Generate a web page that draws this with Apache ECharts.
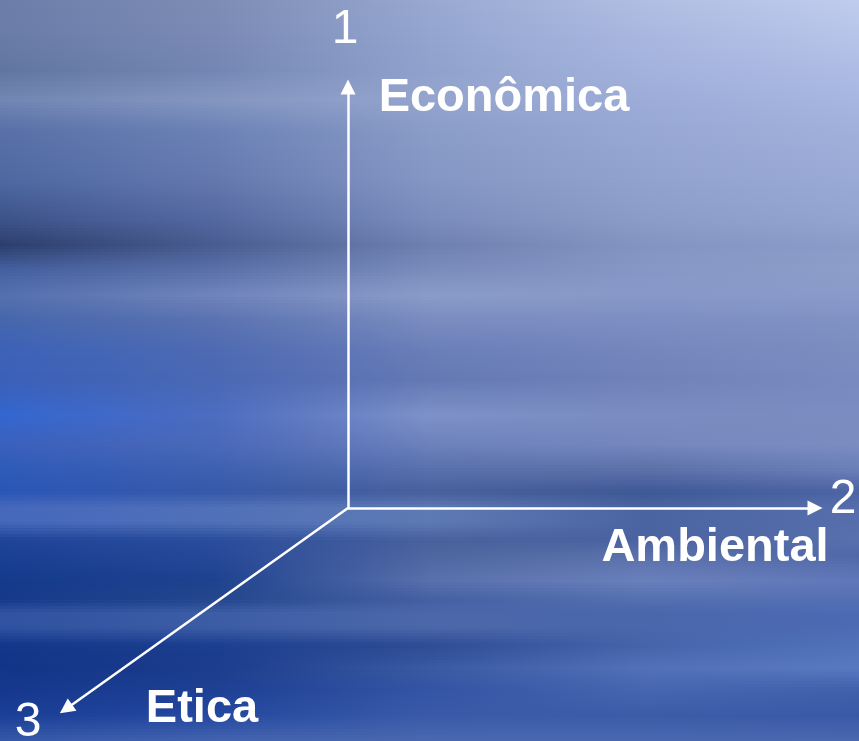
<!DOCTYPE html>
<html><head><meta charset="utf-8">
<script src="https://cdn.jsdelivr.net/npm/echarts@6/dist/echarts.min.js"></script>
<style>html,body{margin:0;padding:0;width:859px;height:741px;overflow:hidden;background:#3a5aa8}#c{width:859px;height:741px}</style>
</head><body><div id="c"></div>
<script>
// Diagram data (abstract units, origin at 0,0)
const axisNumbers = ['1', '2', '3'];
const axisNames = ['Econômica', 'Ambiental', 'Etica'];
const axisEnds = [[0, 4.21], [4.67, 0], [-2.82, -2.01]];
const origin = [0, 0];

// Styling: background colour keyframes (y px: colours at x = 0, 25%, 50%, 75%, 100%)
const bgKeys = [
  [0,   '#6c7ea8','#7c8cb4','#98a8d0','#b0bee2','#c0ccee'],
  [30,  '#6a7ca8','#7a8ab4','#94a6d0','#aab8e0','#b8c6ea'],
  [70,  '#60769f','#7486b4','#90a2cc','#a2b2dc','#aebce4'],
  [100, '#7286b4','#8496c0','#94a4ce','#9cacd8','#a6b6e0'],
  [130, '#5870a6','#6c82b6','#8a9cc8','#98a8d4','#a0b0da'],
  [180, '#4e68a2','#6478ae','#8496c4','#92a2ce','#9aaad6'],
  [220, '#3c5288','#5468a0','#7a8cbc','#8c9cc8','#94a4d0'],
  [245, '#2c3e6c','#485c90','#6e80b0','#8494c2','#8c9cca'],
  [270, '#4460a0','#5a70a8','#7a8cbc','#8696c6','#8e9eca'],
  [295, '#5470ae','#7084bc','#8a9cc8','#8898c8','#8a9aca'],
  [320, '#4666ac','#5a72b0','#7a8cc0','#7c8ec2','#8092c4'],
  [350, '#3c62b8','#4e6ab2','#6a7eb8','#7486bc','#7c8ec0'],
  [380, '#3a60b8','#4a68b4','#6478b4','#7082b8','#788ac0'],
  [415, '#3366d0','#4c6cc0','#7e92c8','#7a8cc0','#7a8cc0'],
  [445, '#3a60bc','#4a68b8','#6c80bc','#7486bc','#7a8cc0'],
  [470, '#2e5ab8','#3e60b0','#5870ac','#5c70a8','#6a7eb8'],
  [492, '#2a56b8','#3658a8','#48609c','#3e5896','#4c64a4'],
  [508, '#4668bc','#5070b8','#5e7ab4','#4a64a2','#566eac'],
  [522, '#4668bc','#5070b8','#5e7ab4','#4a64a2','#566eac'],
  [540, '#1e4498','#2a4c9c','#48629e','#4a62a0','#5870ac'],
  [555, '#1a4094','#284898','#4e66a0','#5a70aa','#5068a8'],
  [580, '#143a8c','#1e428e','#5870ac','#6a80bc','#6078b8'],
  [600, '#163a8a','#24468e','#4460a2','#5470b0','#5470b4'],
  [613, '#3052a0','#3c5ca6','#4c68aa','#4a66ac','#4c6ab4'],
  [627, '#3052a0','#3c5ca6','#4c68aa','#4a66ac','#4c6ab4'],
  [645, '#14368a','#1c3e8e','#2e4c94','#4464aa','#5070b8'],
  [668, '#123488','#1c3c8c','#3a5aa4','#5270b8','#5878c0'],
  [690, '#15388e','#1e4094','#3454a4','#4666b0','#4060ac'],
  [715, '#1a3e96','#2448a0','#3a5aa8','#3c5ca8','#3a58a6'],
  [741, '#3658a8','#4464b0','#4a68b0','#4a68b0','#4a68b0']
];

function hex2rgb(h){return [1,3,5].map(i=>parseInt(h.substr(i,2),16));}
function mix(a,b,t){const A=hex2rgb(a),B=hex2rgb(b);return 'rgb('+A.map((v,i)=>Math.round(v+(B[i]-v)*t)).join(',')+')';}
function colorsAt(y){
  for(let k=0;k<bgKeys.length-1;k++){
    const a=bgKeys[k],b=bgKeys[k+1];
    if(y>=a[0]&&y<=b[0]){const t=(y-a[0])/(b[0]-a[0]);return [1,2,3,4,5].map(j=>mix(a[j],b[j],t));}
  }
  const l=bgKeys[bgKeys.length-1];return [1,2,3,4,5].map(j=>mix(l[j],l[j],0));
}
const bgElements=[];
const step=3;
for(let y=0;y<741;y+=step){
  const c=colorsAt(y+step/2);
  bgElements.push({type:'rect',silent:true,z:-10,shape:{x:0,y:y,width:859,height:step+1},
    style:{fill:new echarts.graphic.LinearGradient(0,0,1,0,c.map((col,j)=>({offset:j/4,color:col})))}});
}

const numberOffsets = [[-3, -57], [28, -8.5], [-38, 14]];
const nameOffsets = [[156, 11], [-100, 40], [136, 0]];

const chart = echarts.init(document.getElementById('c'), null, {renderer:'canvas'});
const labelBase = {show:true,position:'inside',color:'#ffffff',opacity:1,fontFamily:'Liberation Sans, Arial, sans-serif',align:'center',verticalAlign:'middle',formatter:p=>p.name};
chart.setOption({
  animation:false,
  backgroundColor:'transparent',
  graphic:{elements:bgElements},
  grid:{left:0,right:0,top:0,bottom:0},
  xAxis:{type:'value',min:-3.48,max:5.11,show:false},
  yAxis:{type:'value',min:-2.33,max:5.08,show:false},
  series:[
    {type:'lines',coordinateSystem:'cartesian2d',symbol:['none','triangle'],symbolSize:[12,15],
     lineStyle:{color:'#ffffff',width:2.5,opacity:1,curveness:0},
     itemStyle:{color:'#ffffff',opacity:1},
     data:axisEnds.map(e=>({coords:[origin,e]})),z:5},
    {type:'scatter',symbolSize:0,z:6,itemStyle:{opacity:1},
     label:Object.assign({},labelBase,{fontSize:48,fontWeight:'normal'}),
     data:axisEnds.map((e,i)=>({name:axisNumbers[i],value:e,label:{offset:numberOffsets[i]}}))},
    {type:'scatter',symbolSize:0,z:6,itemStyle:{opacity:1},
     label:Object.assign({},labelBase,{fontSize:47,fontWeight:'bold'}),
     data:axisEnds.map((e,i)=>({name:axisNames[i],value:e,label:{offset:nameOffsets[i]}}))}
  ]
});
</script></body></html>
